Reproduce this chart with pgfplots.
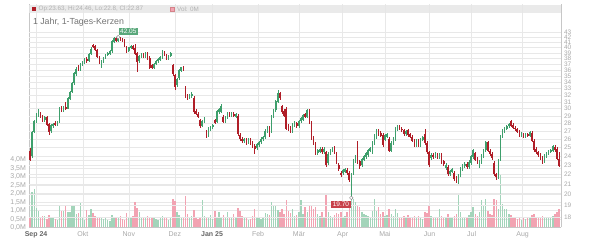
\documentclass[border=0pt]{standalone}
\usepackage{fontspec}
\setmainfont{Liberation Sans}
\usepackage{pgfplots}
\usepackage{pgfplotstable}
\pgfplotsset{compat=1.18}
\definecolor{cgreen}{HTML}{3E9F6C}
\definecolor{cred}{HTML}{B01E28}
\definecolor{vgreen}{HTML}{A3D4BA}
\definecolor{vred}{HTML}{F2A3B2}
\definecolor{gridc}{HTML}{E8E8E8}
\definecolor{tickc}{HTML}{A8A8A8}
\definecolor{hdr}{HTML}{E6E6E6}
\definecolor{lblgreen}{HTML}{5AA87B}
\definecolor{lblred}{HTML}{C8414B}

\pgfplotstableread{
i o h l c v
0 24.6 24.9 23.4 23.6 0.57
1 24.0 27.0 23.8 26.8 2.10
2 26.9 28.5 26.7 28.3 2.26
3 28.3 29.4 28.0 29.0 1.13
4 29.0 29.9 28.8 29.4 1.00
5 29.4 29.6 28.7 28.9 0.62
6 28.9 29.1 28.2 28.4 0.66
7 28.4 29.0 28.2 28.8 0.70
8 28.8 29.0 27.6 27.8 0.52
9 27.9 28.1 26.5 26.9 0.75
10 27.0 27.9 26.8 27.7 0.60
11 27.7 28.1 27.4 27.9 0.55
12 28.1 28.3 27.6 27.8 0.50
13 27.8 28.3 27.6 28.1 0.45
14 28.1 30.3 28.0 30.0 1.30
15 30.0 30.4 29.5 29.7 0.95
16 29.7 30.4 29.5 30.2 1.00
17 30.3 30.9 29.8 30.0 1.35
18 30.0 31.7 29.9 31.5 0.90
19 31.4 32.6 31.2 32.4 0.90
20 32.5 34.0 32.3 33.8 1.35
21 33.8 35.6 33.6 35.4 1.35
22 35.3 36.5 35.0 36.2 0.80
23 36.5 36.8 35.8 36.0 0.85
24 36.0 37.2 35.8 37.0 1.45
25 37.0 37.6 36.7 37.4 0.60
26 37.3 38.1 37.1 37.9 0.45
27 38.0 38.3 37.3 37.5 1.05
28 37.6 39.0 37.4 38.8 0.75
29 38.8 40.2 38.6 39.8 1.10
30 40.5 40.8 39.9 40.2 0.85
31 40.3 40.6 39.4 39.6 0.70
32 39.6 39.8 38.1 38.3 0.65
33 38.3 38.5 37.1 37.3 0.60
34 36.8 37.8 36.3 37.6 0.55
35 37.4 38.3 37.2 38.1 0.50
36 38.1 38.9 37.9 38.7 0.60
37 38.6 39.2 38.4 39.0 0.45
38 38.9 39.5 38.7 39.3 0.40
39 39.3 41.4 39.1 41.2 0.75
40 41.1 42.0 40.9 41.8 0.65
41 41.9 42.0 41.1 41.3 0.55
42 41.3 42.05 41.1 41.9 0.60
43 41.8 42.0 41.2 41.4 0.70
44 41.6 41.8 41.1 41.3 0.50
45 41.4 41.6 40.2 40.4 0.45
46 40.2 40.4 39.0 39.2 0.85
47 39.4 40.2 39.2 40.0 0.65
48 40.0 40.5 39.8 40.3 0.55
49 40.3 40.5 39.6 39.8 0.70
50 40.0 40.8 38.7 38.9 1.50
51 39.0 39.2 35.6 37.4 1.15
52 37.5 38.7 37.3 38.5 0.90
53 38.3 39.1 38.1 38.9 0.60
54 38.9 39.1 38.1 38.3 0.65
55 38.4 39.2 38.2 39.0 0.55
56 39.0 39.2 37.7 37.9 0.70
57 38.2 38.4 36.2 36.4 0.65
58 36.9 37.1 36.1 36.3 0.60
59 36.4 37.2 36.2 37.0 0.55
60 37.0 37.8 36.8 37.6 0.50
61 37.5 38.1 37.3 37.9 0.45
62 37.8 38.4 37.6 38.2 0.60
63 38.2 39.6 38.0 39.1 0.70
64 39.0 39.3 38.4 38.6 0.55
65 38.6 38.8 37.7 37.9 0.65
66 38.0 38.7 37.8 38.5 0.45
67 38.5 39.2 38.3 39.0 0.60
68 36.8 37.0 35.0 35.3 1.70
69 35.2 35.4 32.8 33.3 1.55
70 33.5 34.7 33.3 34.5 0.90
71 34.6 36.2 34.4 36.0 0.75
72 35.9 36.6 35.7 36.4 0.60
73 36.5 36.7 35.8 36.0 0.55
74 33.2 33.4 31.5 31.7 1.85
75 31.9 32.1 31.3 31.5 0.80
76 31.6 32.1 31.4 31.9 0.55
77 31.8 32.4 31.6 32.1 0.70
78 31.6 31.8 29.3 29.5 1.05
79 29.7 29.9 29.1 29.3 0.65
80 29.3 29.5 28.7 28.9 0.50
81 28.4 28.6 27.4 27.6 0.55
82 27.7 28.5 27.5 28.3 1.60
83 28.2 28.8 28.0 28.6 0.70
84 26.9 27.1 26.1 26.3 0.60
85 26.5 27.5 26.3 27.3 0.55
86 27.2 27.7 27.0 27.5 0.75
87 27.5 27.9 27.3 27.7 0.50
88 28.4 28.6 27.9 28.1 1.00
89 28.2 29.8 28.0 29.6 0.65
90 29.5 30.1 29.3 29.9 0.90
91 29.6 30.7 29.4 30.4 0.60
92 28.9 29.1 28.0 28.2 0.75
93 28.3 29.0 28.1 28.8 0.55
94 28.8 29.5 28.6 29.3 0.90
95 29.4 29.6 28.8 29.0 0.65
96 29.0 29.5 28.8 29.3 0.55
97 29.3 29.5 28.8 29.0 0.80
98 28.9 29.4 28.7 29.2 0.60
99 29.0 29.2 26.4 26.6 1.15
100 26.5 26.7 25.8 26.0 0.95
101 26.0 26.2 25.5 25.7 0.70
102 25.7 26.1 25.5 25.9 0.55
103 25.9 26.1 25.3 25.5 0.60
104 25.6 26.1 25.4 25.9 0.45
105 25.9 26.1 25.3 25.5 0.50
106 25.5 25.7 24.9 25.1 0.70
107 25.2 25.4 24.2 24.8 1.10
108 24.9 25.5 24.7 25.3 0.60
109 25.3 25.8 25.1 25.6 0.55
110 25.6 26.2 25.4 26.0 0.50
111 26.0 26.4 25.8 26.2 0.60
112 26.2 27.2 26.0 27.0 0.85
113 27.0 27.6 26.8 27.4 0.80
114 27.4 27.6 26.3 26.5 0.75
115 27.0 29.1 26.8 28.9 1.50
116 28.9 30.0 28.7 29.8 1.30
117 29.8 31.2 29.6 31.0 1.30
118 31.0 32.7 30.8 32.3 1.05
119 32.3 32.5 31.3 31.5 0.90
120 30.4 30.6 29.3 29.5 1.10
121 29.7 29.9 28.8 29.0 0.80
122 30.0 30.2 27.1 27.3 1.60
123 27.5 27.9 27.0 27.2 1.00
124 27.4 27.6 26.8 27.0 0.85
125 27.0 28.0 26.8 27.8 1.10
126 27.7 28.3 27.5 28.1 0.70
127 28.0 28.2 27.4 27.6 0.75
128 27.6 28.5 27.4 28.3 0.90
129 28.3 28.8 28.1 28.6 1.60
130 28.5 29.3 28.3 29.1 0.80
131 29.2 29.4 28.7 28.9 1.20
132 28.9 29.9 28.7 29.7 0.90
133 29.8 30.0 27.9 28.1 1.25
134 28.1 28.3 25.9 26.1 1.30
135 26.2 26.4 25.3 25.5 1.10
136 25.4 25.6 24.1 24.3 1.20
137 24.3 24.8 24.1 24.6 0.80
138 24.5 25.0 24.3 24.8 0.70
139 24.8 25.0 24.2 24.4 0.90
140 24.4 25.0 24.2 24.8 0.65
141 24.4 24.6 22.8 23.0 2.00
142 23.2 24.4 23.0 24.2 0.90
143 24.3 24.8 24.1 24.6 0.70
144 24.6 25.1 24.4 24.9 0.60
145 25.0 25.2 24.2 24.4 0.75
146 24.2 24.4 23.1 23.3 0.85
147 23.0 23.2 22.4 22.6 0.80
148 22.2 22.4 21.7 21.9 0.90
149 22.1 22.6 21.9 22.4 0.65
150 22.3 22.7 22.1 22.5 0.70
151 22.5 22.7 21.9 22.1 0.90
152 22.2 22.4 21.2 21.4 1.30
153 20.4 22.2 19.70 22.0 2.30
154 22.1 23.7 21.9 23.5 1.70
155 23.4 24.1 23.2 23.9 1.50
156 25.5 25.7 23.1 23.3 1.30
157 23.4 23.6 22.6 22.9 1.20
158 23.0 23.8 22.8 23.6 0.90
159 23.6 24.1 23.4 23.9 0.80
160 23.9 24.5 23.7 24.3 0.75
161 24.1 24.8 23.9 24.6 0.70
162 24.6 25.1 24.4 24.9 0.65
163 24.4 25.8 24.2 25.6 1.00
164 25.5 26.6 25.3 26.4 1.70
165 26.2 27.2 26.0 27.0 1.00
166 27.0 27.2 26.4 26.6 1.20
167 26.8 27.0 26.2 26.4 0.80
168 26.5 26.7 25.1 25.3 0.90
169 25.9 26.6 25.7 26.4 0.70
170 26.3 26.8 26.1 26.6 0.75
171 26.0 26.2 24.4 24.6 1.10
172 24.6 25.7 24.4 25.5 0.80
173 25.5 26.2 25.3 26.0 0.70
174 26.0 27.5 25.8 27.3 1.10
175 27.2 27.8 27.0 27.6 0.85
176 27.6 27.8 27.1 27.3 0.60
177 27.3 27.5 26.9 27.1 0.55
178 27.1 27.3 26.4 26.6 0.70
179 26.6 27.1 26.4 26.9 0.60
180 27.1 27.3 26.3 26.5 0.75
181 26.6 26.8 26.1 26.3 0.55
182 26.3 26.5 25.6 25.8 0.65
183 25.8 26.0 25.1 25.3 0.70
184 25.3 26.0 25.1 25.8 0.60
185 25.8 26.0 25.0 25.2 0.70
186 25.3 26.1 25.1 25.9 0.55
187 25.9 26.4 25.7 26.2 0.50
188 26.6 27.2 25.3 25.5 0.90
189 25.5 25.7 24.2 24.4 0.85
190 24.4 24.6 22.8 23.0 1.30
191 23.8 24.3 23.6 24.1 0.70
192 24.1 24.3 23.7 23.9 0.60
193 24.0 24.4 23.8 24.2 0.55
194 24.1 24.3 23.7 23.9 0.60
195 23.9 24.3 23.7 24.1 1.10
196 24.1 24.3 23.1 23.3 0.70
197 23.4 23.6 22.9 23.1 0.65
198 22.7 23.2 22.5 23.0 0.60
199 22.8 23.0 21.8 22.0 0.80
200 22.0 22.5 21.8 22.3 0.60
201 22.3 22.7 22.1 22.5 0.55
202 22.2 22.4 21.3 21.5 0.70
203 21.6 21.8 21.1 21.3 0.80
204 21.3 22.0 21.0 21.8 2.00
205 21.9 22.8 21.7 22.6 0.90
206 22.6 23.1 22.4 22.9 0.60
207 22.9 23.3 22.7 23.1 0.55
208 23.1 23.3 22.6 22.8 0.65
209 22.8 23.5 22.6 23.3 0.75
210 23.2 24.1 23.0 23.9 0.90
211 23.9 24.8 23.7 24.6 1.20
212 24.3 24.5 23.4 23.6 0.80
213 23.7 23.9 23.1 23.3 0.70
214 22.9 23.5 22.7 23.3 0.90
215 23.3 24.2 23.1 24.0 1.60
216 24.0 24.8 23.8 24.6 1.30
217 24.7 25.8 24.5 25.6 1.70
218 25.6 25.8 24.4 24.6 1.00
219 24.6 24.8 24.0 24.2 0.80
220 24.2 24.4 23.6 23.8 0.75
221 23.2 23.4 21.8 22.0 1.70
222 22.0 22.2 21.4 21.7 1.60
223 21.7 23.7 21.5 23.5 1.10
224 23.6 26.5 23.4 26.3 3.10
225 26.3 27.2 26.1 27.0 1.40
226 27.0 27.5 26.8 27.3 1.10
227 27.3 27.8 27.1 27.6 1.10
228 27.6 28.0 27.4 27.8 0.80
229 28.3 28.5 27.5 27.7 0.75
230 27.8 28.0 27.2 27.4 0.60
231 27.4 27.6 27.0 27.2 0.55
232 27.2 27.4 26.7 26.9 0.50
233 26.9 27.1 26.3 26.5 0.55
234 26.5 26.9 26.3 26.7 0.45
235 26.6 26.8 26.1 26.3 0.60
236 26.3 26.8 26.1 26.6 0.50
237 26.6 26.8 26.2 26.4 0.55
238 26.4 27.0 26.2 26.8 0.60
239 26.8 27.0 25.6 25.8 0.75
240 25.8 26.0 24.5 24.7 0.80
241 24.8 25.0 24.2 24.4 0.65
242 24.4 24.6 23.9 24.1 0.55
243 24.1 24.3 23.6 23.8 0.60
244 23.8 24.0 23.1 23.3 0.70
245 23.4 24.2 23.2 24.0 0.65
246 24.0 24.5 23.8 24.3 0.60
247 24.3 24.7 24.1 24.5 0.55
248 24.5 24.8 24.3 24.6 0.60
249 24.6 25.3 24.4 25.1 0.70
250 25.1 25.3 24.5 24.7 0.80
251 24.8 25.0 23.5 23.7 0.90
252 23.63 24.46 22.8 22.87 1.10
}\candles

\begin{document}
\begin{tikzpicture}
\begin{axis}[
  at={(29pt,12.5pt)}, anchor=south west, scale only axis,
  width=532pt, height=223pt,
  xmin=-0.48, xmax=252.86, ymin=0, ymax=13.2,
  restrict x to domain=-10:300,
  axis lines*=left,
  axis line style={draw=black!22, line width=0.5pt},
  ytick={0,0.5,1,1.5,2,2.5,3,3.5,4},
  yticklabels={{0,0M},{0,5M},{1,0M},{1,5M},{2,0M},{2,5M},{3,0M},{3,5M},{4,0M}},
  xtick={2.9,25.2,47.1,69.0,86.7,108.6,128.1,148.9,169.0,190.3,210.3,234.6},
  xticklabels={\textcolor{black!60}{\textbf{Sep 24}},Okt,Nov,Dez,\textcolor{black!60}{\textbf{Jan 25}},Feb,Mär,Apr,Mai,Jun,Jul,Aug},
  xmajorgrids, ymajorgrids,
  grid style={draw=gridc, line width=0.5pt},
  major tick length=0pt,
  tick label style={font=\fontsize{7}{8}\selectfont, text=tickc},
  yticklabel style={xshift=0.5pt},
  xticklabel style={yshift=-0.5pt},
  /pgf/number format/assume math mode=true,
]
\addplot[ycomb, draw=vgreen, line width=1.4pt]
  table[x expr={\thisrow{c}>=\thisrow{o} ? \thisrow{i} : -1000}, y=v] {\candles};
\addplot[ycomb, draw=vred, line width=1.4pt]
  table[x expr={\thisrow{c}<\thisrow{o} ? \thisrow{i} : -1000}, y=v] {\candles};
\end{axis}
\fill[hdr, opacity=0.85] (29pt,226.7pt) rectangle (561pt,235.2pt);
\begin{axis}[
  at={(29pt,12.5pt)}, anchor=south west, scale only axis,
  width=532pt, height=223pt,
  xmin=-0.48, xmax=252.86, ymode=log, ymin=17.13, ymax=49.05,
  restrict x to domain=-10:300,
  axis y line*=right, axis x line=none,
  axis line style={draw=black!22, line width=0.5pt},
  ytick={18,19,20,21,22,23,24,25,26,27,28,29,30,31,32,33,34,35,36,37,38,39,40,41,42,43},
  yticklabels={18,19,20,21,22,23,24,25,26,27,28,29,30,31,32,33,34,35,36,37,38,39,40,41,42,43},
  ymajorgrids,
  grid style={draw=gridc, line width=0.5pt},
  major tick length=0pt,
  tick label style={font=\fontsize{6.5}{7}\selectfont, text=tickc},
  yticklabel style={xshift=-0.5pt},
  /pgf/number format/assume math mode=true,
]
% wicks
\addplot[draw=none, mark=none,
  error bars/.cd, y dir=both, y explicit, error mark=none,
  error bar style={draw=cgreen, line width=0.6pt}]
  table[x expr={\thisrow{c}>=\thisrow{o} ? \thisrow{i} : -1000}, y=c,
        y error plus expr=\thisrow{h}-\thisrow{c}, y error minus expr=\thisrow{c}-\thisrow{l}] {\candles};
\addplot[draw=none, mark=none,
  error bars/.cd, y dir=both, y explicit, error mark=none,
  error bar style={draw=cred, line width=0.6pt}]
  table[x expr={\thisrow{c}<\thisrow{o} ? \thisrow{i} : -1000}, y=c,
        y error plus expr=\thisrow{h}-\thisrow{c}, y error minus expr=\thisrow{c}-\thisrow{l}] {\candles};
% bodies
\addplot[draw=none, mark=none,
  error bars/.cd, y dir=plus, y explicit, error mark=none,
  error bar style={draw=cgreen, line width=1.6pt}]
  table[x expr={\thisrow{c}>=\thisrow{o} ? \thisrow{i} : -1000}, y=o,
        y error plus expr=\thisrow{c}-\thisrow{o}+0.05, y error minus expr=0] {\candles};
\addplot[draw=none, mark=none,
  error bars/.cd, y dir=plus, y explicit, error mark=none,
  error bar style={draw=cred, line width=1.6pt}]
  table[x expr={\thisrow{c}<\thisrow{o} ? \thisrow{i} : -1000}, y=c,
        y error plus expr=\thisrow{o}-\thisrow{c}, y error minus expr=0] {\candles};
% high / low markers
\addplot[only marks, mark=*, mark size=1.8pt,
  mark options={fill=white, draw=black!45, line width=0.5pt}]
  coordinates {(42,42.05) (153,19.70)};
\node[fill=lblgreen, text=white, font=\fontsize{6.5}{7}\selectfont, inner xsep=1.5pt, inner ysep=1.2pt, anchor=south west]
  at ([xshift=0.3pt, yshift=2.2pt]axis cs:42,42.05) {42.05};
\node[fill=lblred, text=white, font=\fontsize{6.5}{7}\selectfont, inner xsep=1.5pt, inner ysep=1.2pt, anchor=north east]
  at ([xshift=-0.5pt, yshift=-2.5pt]axis cs:153,19.70) {19.70};
\end{axis}
% header
\fill[cred] (32pt,229pt) rectangle (36.2pt,233.2pt);
\node[anchor=west, font=\fontsize{6.3}{7}\selectfont, text=black!30, inner sep=0pt] at (38.5pt,231pt) {Op:23.63, Hi:24.46, Lo:22.8, Cl:22.87};
\filldraw[fill=vred, draw=cred!55, line width=0.4pt] (170.5pt,229.2pt) rectangle (174.5pt,233.2pt);
\node[anchor=west, font=\fontsize{6.3}{7}\selectfont, text=black!30, inner sep=0pt] at (177pt,231pt) {Vol: 0M};
\node[anchor=base west, font=\fontsize{8.8}{10}\selectfont, text=black!55, inner sep=0pt] at (32.8pt,215.6pt) {1 Jahr, 1-Tages-Kerzen};
\pgfresetboundingbox
\path (0pt,0pt) rectangle (600pt,240pt);
\end{tikzpicture}
\end{document}
